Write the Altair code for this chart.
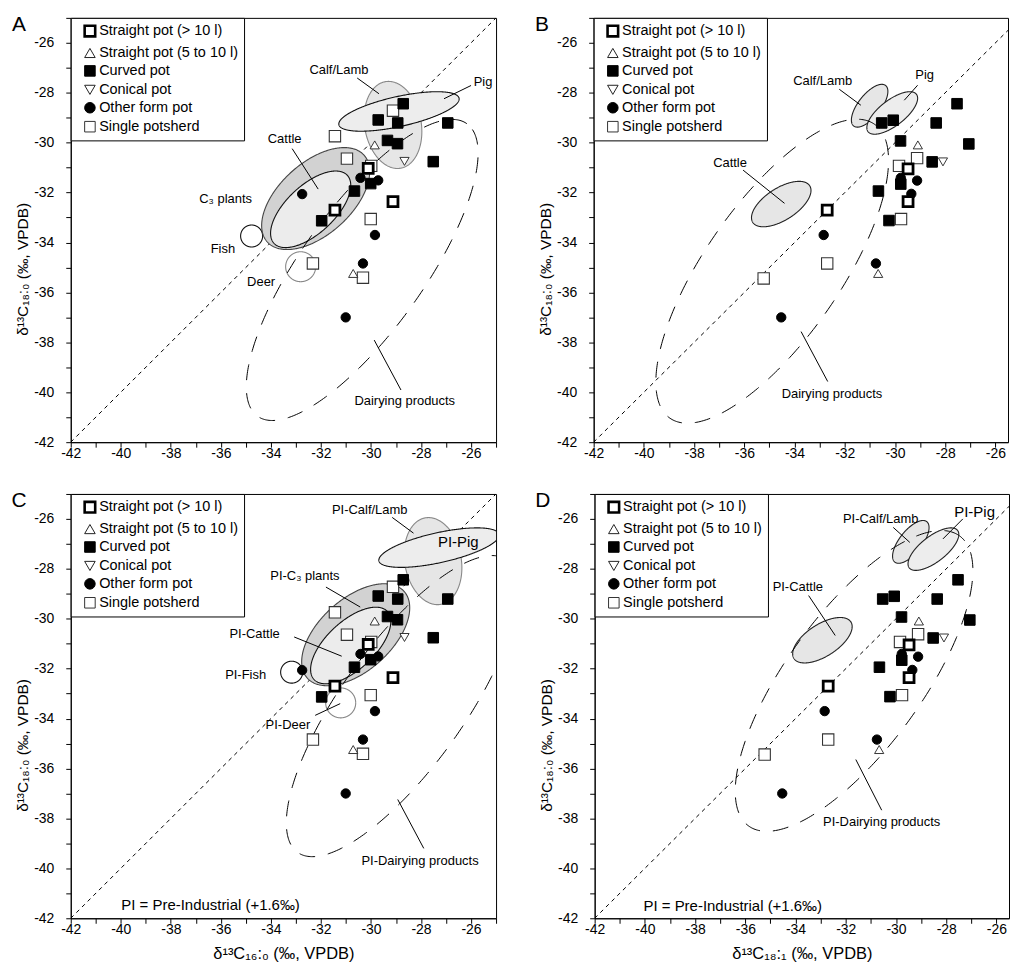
import altair as alt
import numpy as np
import pandas as pd

FONT = "Liberation Sans"

# ---------------- sample categories ----------------
TYPE_CODES = ["S10", "S5", "CU", "CO", "OF", "SP"]
TYPE_LABELS = ["Straight pot (> 10 l)", "Straight pot (5 to 10 l)", "Curved pot",
               "Conical pot", "Other form pot", "Single potsherd"]

# ---------------- panels A / C : d13C16:0 vs d13C18:0 ----------------
AC_X16 = [-28.71, -29.12, -29.71, -28.93, -26.93, -31.44, -29.34, -28.94, -29.85, -30.96,
          -28.66, -27.51, -29.99, -30.11, -30.42, -29.71, -30.01, -30.66, -32.75, -29.12,
          -31.44, -30.01, -31.97, -29.84, -32.32, -30.32, -30.71, -30.32, -31.01]
AC_Y18 = [-28.44, -28.72, -29.09, -29.21, -29.21, -29.74, -29.91, -30.04, -30.09, -30.64,
          -30.75, -30.76, -30.93, -31.03, -31.41, -31.51, -31.64, -31.94, -32.06, -32.36,
          -32.70, -33.06, -33.13, -33.70, -34.84, -34.84, -35.24, -35.41, -37.00]
AC_TYPE = ["CU", "SP", "CU", "CU", "CU", "SP", "CU", "CU", "S5", "SP",
           "CO", "CU", "SP", "S10", "OF", "OF", "CU", "CU", "OF", "S10",
           "S10", "SP", "CU", "OF", "SP", "OF", "S5", "SP", "OF"]

# ---------------- panels B / D : d13C18:1 vs d13C18:0 ----------------
BD_X181 = [-27.53, -30.53, -30.07, -28.36, -29.78, -27.06, -29.09, -29.12, -28.52, -28.09,
           -29.84, -29.48, -29.77, -29.77, -29.12, -29.35, -30.66, -29.48, -32.70, -29.76,
           -30.24, -32.84, -32.70, -30.76, -30.67, -35.23, -34.53]
BD_Y18 = [-28.44, -29.21, -29.10, -29.21, -29.93, -30.05, -30.09, -30.62, -30.77, -30.77,
          -30.93, -31.05, -31.41, -31.66, -31.52, -32.05, -31.94, -32.36, -32.70, -33.06,
          -33.12, -33.70, -34.84, -34.84, -35.24, -35.44, -37.00]
BD_TYPE = ["CU", "CU", "CU", "CU", "CU", "CU", "S5", "SP", "CU", "CO",
           "SP", "S10", "OF", "CU", "OF", "OF", "CU", "S10", "S10", "SP",
           "CU", "OF", "SP", "OF", "S5", "SP", "OF"]

# ---------------- reference ranges (ellipses: centre, semi-axes, angle) ----------------
ELL_AC_NAME = ["Calf/Lamb", "Pig", "Deer", "Fish", "C3 plants", "Cattle", "Dairy"]
ELL_AC_CX = [-29.12, -28.88, -32.81, -34.77, -32.21, -32.41, -30.35]
ELL_AC_CY = [-29.29, -28.75, -34.97, -33.74, -32.24, -32.67, -35.10]
ELL_AC_A = [1.76, 2.46, 0.60, 0.44, 2.60, 2.00, 7.20]
ELL_AC_B = [1.13, 0.60, 0.60, 0.44, 1.44, 0.96, 2.45]
ELL_AC_ANG = [100, 12.5, 0, 0, 42, 43, 54.5]

ELL_B_NAME = ["Calf/Lamb", "Pig", "Cattle", "Dairy"]
ELL_B_CX = [-31.01, -30.11, -34.53, -34.89]
ELL_B_CY = [-28.52, -28.81, -32.46, -35.15]
ELL_B_A = [1.03, 1.22, 1.35, 7.16]
ELL_B_B = [0.45, 0.51, 0.64, 2.70]
ELL_B_ANG = [52, 38, 33, 55.4]

ELL_D_NAME = ["Calf/Lamb", "Pig", "Cattle", "Dairy"]
ELL_D_CX = [-29.41, -28.51, -32.93, -31.67]
ELL_D_CY = [-26.92, -27.21, -30.86, -32.49]
ELL_D_A = [1.03, 1.22, 1.35, 7.17]
ELL_D_B = [0.45, 0.51, 0.64, 2.70]
ELL_D_ANG = [52, 38, 33, 54.2]

PI_SHIFT = 1.6   # pre-industrial correction (+1.6 permil)

DIAG = [-42, -25]

# ---------------- annotations ----------------
LAB_A_TEXT = ["Calf/Lamb", "Pig", "Cattle", "C₃ plants", "Fish", "Deer", "Dairying products"]
LAB_A_X = [-31.28, -25.52, -33.45, -35.81, -35.92, -34.39, -28.65]
LAB_A_Y = [-27.08, -27.57, -29.84, -32.24, -34.26, -35.57, -40.37]
LEAD_A = [(-30.55, -27.41, -29.68, -28.04), (-26.00, -27.71, -27.08, -28.24),
          (-33.15, -30.24, -32.11, -31.86), (-29.87, -37.91, -28.80, -39.91)]

LAB_B_TEXT = ["Calf/Lamb", "Pig", "Cattle", "Dairying products"]
LAB_B_X = [-32.88, -28.82, -36.57, -32.51]
LAB_B_Y = [-27.54, -27.30, -30.82, -40.08]
LEAD_B = [(-32.22, -27.86, -31.36, -28.50), (-29.10, -27.70, -29.63, -28.30),
          (-36.05, -31.10, -34.40, -32.43), (-33.74, -37.57, -32.68, -39.57)]

LAB_C_TEXT = ["PI-Calf/Lamb", "PI-Pig", "PI-C₃ plants", "PI-Cattle", "PI-Fish", "PI-Deer",
              "PI-Dairying products", "PI = Pre-Industrial (+1.6‰)"]
LAB_C_X = [-30.05, -26.51, -32.64, -34.65, -35.01, -33.32, -28.04, -36.41]
LAB_C_Y = [-25.64, -26.91, -28.27, -30.60, -32.24, -34.24, -39.70, -41.47]
LEAD_C = [(-29.15, -25.94, -28.30, -26.57), (-31.80, -28.73, -30.43, -29.53),
          (-33.07, -30.73, -31.17, -31.50), (-32.23, -33.87, -31.23, -33.40),
          (-28.93, -37.24, -27.89, -39.20)]

LAB_D_TEXT = ["PI-Calf/Lamb", "PI-Pig", "PI-Cattle", "PI-Dairying products",
              "PI = Pre-Industrial (+1.6‰)"]
LAB_D_X = [-30.61, -26.87, -33.91, -30.57, -36.50]
LAB_D_Y = [-26.02, -25.74, -28.71, -38.14, -41.50]
LEAD_D = [(-30.11, -26.34, -29.45, -26.94), (-27.34, -26.00, -28.13, -26.80),
          (-33.48, -29.07, -32.42, -30.67), (-31.60, -35.64, -30.57, -37.67)]

# ---------------- styles ----------------
SHAPES = ["square", "triangle-up", "square", "triangle-down", "circle", "square"]
FILLS = ["white", "white", "black", "white", "black", "white"]
STROKES = ["black", "#222222", "black", "#222222", "black", "#333333"]
SW_BY_CODE = {"S10": 2.8, "S5": 0.9, "CU": 1.0, "CO": 0.9, "OF": 1.0, "SP": 1.1}
SIZE_BY_CODE = {"S10": 100, "S5": 85, "CU": 112, "CO": 85, "OF": 88, "SP": 130}
DRAW_RANK = {"SP": 0, "S5": 1, "CO": 2, "CU": 3, "OF": 4, "S10": 5}

ELL_STYLE = {
    "Calf/Lamb": dict(fill="#e6e6e6", stroke="#888888"),
    "Pig": dict(fill="#ededed", stroke="#111111"),
    "Deer": dict(fill=None, stroke="#888888"),
    "Fish": dict(fill="white", stroke="#111111"),
    "C3 plants": dict(fill="#d2d2d2", stroke="#444444"),
    "Cattle": dict(fill="#ececec", stroke="#111111"),
}
ELL_STYLE_BD = {
    "Calf/Lamb": dict(fill="#e6e6e6", stroke="#222222"),
    "Pig": dict(fill="#ededed", stroke="#222222"),
    "Cattle": dict(fill="#e6e6e6", stroke="#222222"),
}
BIG_TEXT = {"PI-Pig": 15, "PI = Pre-Industrial (+1.6‰)": 15}


def ellipse_band(cx, cy, a, b, ang, n=181):
    th = np.radians(ang)
    c, s = np.cos(th), np.sin(th)
    w = np.sqrt((a * c) ** 2 + (b * s) ** 2)
    t = np.linspace(0, np.pi, n)
    dx = w * np.cos(t)
    qa = s * s / a ** 2 + c * c / b ** 2
    qb = 2 * dx * s * c * (1 / a ** 2 - 1 / b ** 2)
    qc = dx ** 2 * (c * c / a ** 2 + s * s / b ** 2) - 1
    disc = np.clip(qb * qb - 4 * qa * qc, 0, None)
    return pd.DataFrame({"x": cx + dx,
                         "y": cy + (-qb + np.sqrt(disc)) / (2 * qa),
                         "y2": cy + (-qb - np.sqrt(disc)) / (2 * qa)})


def ellipse_ring(cx, cy, a, b, ang, n=361):
    th = np.radians(ang)
    c, s = np.cos(th), np.sin(th)
    p = np.linspace(0, 2 * np.pi, n)
    return pd.DataFrame({"x": cx + a * np.cos(p) * c - b * np.sin(p) * s,
                         "y": cy + a * np.cos(p) * s + b * np.sin(p) * c,
                         "o": np.arange(n)})


LEG = alt.Legend(title=None, orient="top-left", offset=0, padding=6,
                 strokeColor="black", fillColor="white",
                 labelFont=FONT, labelFontSize=14.5, labelColor="black",
                 rowPadding=3, symbolOffset=6, labelOffset=2, labelLimit=400,
                 symbolSize=112,
                 symbolStrokeWidth=alt.ExprRef("datum.index == 0 ? 2.6 : 1"))


def panel(letter, px, py, pt, enames, ecx, ecy, ea, eb, eang, estyle, shift,
          lead, ltext, lx, ly, xmax, width, xtitle):
    xsc = alt.Scale(domain=[-42, xmax], nice=False, zero=False)
    ysc = alt.Scale(domain=[-42, -25], nice=False, zero=False)
    vals = list(range(-42, -24))
    lab_expr = "datum.value % 2 == 0 ? '' + datum.value : ''"
    xax = alt.Axis(values=vals, labelExpr=lab_expr, title=xtitle, labelOverlap=False,
                   labelFlush=False, tickSize=5, labelPadding=-1, titlePadding=9,
                   titleFontSize=16.5)
    yax = alt.Axis(values=vals, labelExpr=lab_expr,
                   title="δ¹³C₁₈:₀ (‰, VPDB)", labelOverlap=False, labelFlush=False,
                   tickSize=5, labelPadding=12, titlePadding=3, titleY=252,
                   titleFontSize=15.5)

    def X(f="x"):
        return alt.X(f, type="quantitative", scale=xsc, axis=xax)

    def Y(f="y"):
        return alt.Y(f, type="quantitative", scale=ysc, axis=yax)

    layers = []
    diag = pd.DataFrame({"x": DIAG, "y": DIAG})
    layers.append(alt.Chart(diag).mark_line(color="black", strokeWidth=1,
                                            strokeDash=[4, 4], clip=True)
                  .encode(x=X(), y=Y()))

    for i, name in enumerate(enames):
        cx, cy = ecx[i] + shift, ecy[i] + shift
        if name == "Dairy":
            continue
        st = estyle[name]
        if st["fill"] is None:
            d = ellipse_ring(cx, cy, ea[i], eb[i], eang[i])
            layers.append(alt.Chart(d).mark_line(color=st["stroke"], strokeWidth=1.1, clip=True)
                          .encode(x=X(), y=Y(), order="o:Q"))
        else:
            d = ellipse_band(cx, cy, ea[i], eb[i], eang[i])
            layers.append(alt.Chart(d).mark_area(fill=st["fill"], stroke=st["stroke"],
                                                 strokeWidth=1.1, opacity=1, clip=True)
                          .encode(x=X(), y=Y(), y2="y2:Q"))

    for i, name in enumerate(enames):
        if name != "Dairy":
            continue
        cx, cy = ecx[i] + shift, ecy[i] + shift
        d = ellipse_ring(cx, cy, ea[i], eb[i], eang[i])
        layers.append(alt.Chart(d).mark_line(color="black", strokeWidth=1,
                                             strokeDash=[16, 13], clip=True)
                      .encode(x=X(), y=Y(), order="o:Q"))

    ld = pd.DataFrame(lead, columns=["x", "y", "x2", "y2"])
    layers.append(alt.Chart(ld).mark_rule(color="black", strokeWidth=1)
                  .encode(x=X(), y=Y(), x2="x2:Q", y2="y2:Q"))

    pts = pd.DataFrame({"x": px, "y": py, "code": pt})
    pts["type"] = [TYPE_LABELS[TYPE_CODES.index(c)] for c in pts["code"]]
    pts["rank"] = [DRAW_RANK[c] for c in pts["code"]]
    pts["sz"] = [SIZE_BY_CODE[c] for c in pts["code"]]
    pts["sw"] = [SW_BY_CODE[c] for c in pts["code"]]
    pts = pts.sort_values("rank", kind="stable")
    dom = TYPE_LABELS
    layers.append(alt.Chart(pts).mark_point(opacity=1, clip=True).encode(
        x=X(), y=Y(),
        shape=alt.Shape("type:N", scale=alt.Scale(domain=dom, range=SHAPES), legend=LEG),
        fill=alt.Fill("type:N", scale=alt.Scale(domain=dom, range=FILLS), legend=LEG),
        stroke=alt.Stroke("type:N", scale=alt.Scale(domain=dom, range=STROKES), legend=LEG),
        strokeWidth=alt.StrokeWidth("sw:Q", scale=None, legend=None),
        size=alt.Size("sz:Q", scale=None, legend=None),
    ))

    lab = pd.DataFrame({"x": lx, "y": ly, "t": ltext})
    lab["fs"] = [BIG_TEXT.get(t, 13) for t in ltext]
    layers.append(alt.Chart(lab).mark_text(font=FONT, color="black", align="center",
                                           baseline="middle")
                  .encode(x=X(), y=Y(), text="t:N",
                          size=alt.Size("fs:Q", scale=None, legend=None)))

    let = pd.DataFrame({"t": [letter]})
    layers.append(alt.Chart(let).mark_text(font=FONT, fontSize=21, color="black",
                                           align="center", baseline="middle")
                  .encode(text="t:N", x=alt.value(-52), y=alt.value(7)))

    return alt.layer(*layers).properties(width=width, height=426)


A = panel("A", AC_X16, AC_Y18, AC_TYPE, ELL_AC_NAME, ELL_AC_CX, ELL_AC_CY, ELL_AC_A,
          ELL_AC_B, ELL_AC_ANG, ELL_STYLE, 0.0, LEAD_A, LAB_A_TEXT, LAB_A_X, LAB_A_Y,
          -25, 427, None)
B = panel("B", BD_X181, BD_Y18, BD_TYPE, ELL_B_NAME, ELL_B_CX, ELL_B_CY, ELL_B_A,
          ELL_B_B, ELL_B_ANG, ELL_STYLE_BD, 0.0, LEAD_B, LAB_B_TEXT, LAB_B_X, LAB_B_Y,
          -25.5, 416, None)
C = panel("C", AC_X16, AC_Y18, AC_TYPE, ELL_AC_NAME, ELL_AC_CX, ELL_AC_CY, ELL_AC_A,
          ELL_AC_B, ELL_AC_ANG, ELL_STYLE, PI_SHIFT, LEAD_C, LAB_C_TEXT, LAB_C_X, LAB_C_Y,
          -25, 427, "δ¹³C₁₆:₀ (‰, VPDB)")
D = panel("D", BD_X181, BD_Y18, BD_TYPE, ELL_D_NAME, ELL_D_CX, ELL_D_CY, ELL_D_A,
          ELL_D_B, ELL_D_ANG, ELL_STYLE_BD, 0.0, LEAD_D, LAB_D_TEXT, LAB_D_X, LAB_D_Y,
          -25.5, 416, "δ¹³C₁₈:₁ (‰, VPDB)")

RES = dict(x="independent", y="independent", shape="independent", fill="independent",
           stroke="independent")
LRES = dict(shape="independent", fill="independent", stroke="independent")

top = alt.hconcat(A, B, spacing=37).resolve_scale(**RES).resolve_legend(**LRES)
bot = alt.hconcat(C, D, spacing=37).resolve_scale(**RES).resolve_legend(**LRES)

chart = (alt.vconcat(top, bot, spacing=25)
         .resolve_scale(**RES).resolve_legend(**LRES)
         .properties(padding={"left": 2, "top": 0, "right": 0, "bottom": 0})
         .configure(font=FONT)
         .configure_view(stroke="black", strokeWidth=1)
         .configure_axis(domainColor="black", tickColor="black", labelColor="black",
                         labelFont=FONT, labelFontSize=14, titleFont=FONT, titleFontSize=16,
                         titleFontWeight="normal", titleColor="black", grid=False,
                         domainWidth=1, tickWidth=1))

chart.save("out.html", embed_options={"renderer": "svg", "actions": False})
